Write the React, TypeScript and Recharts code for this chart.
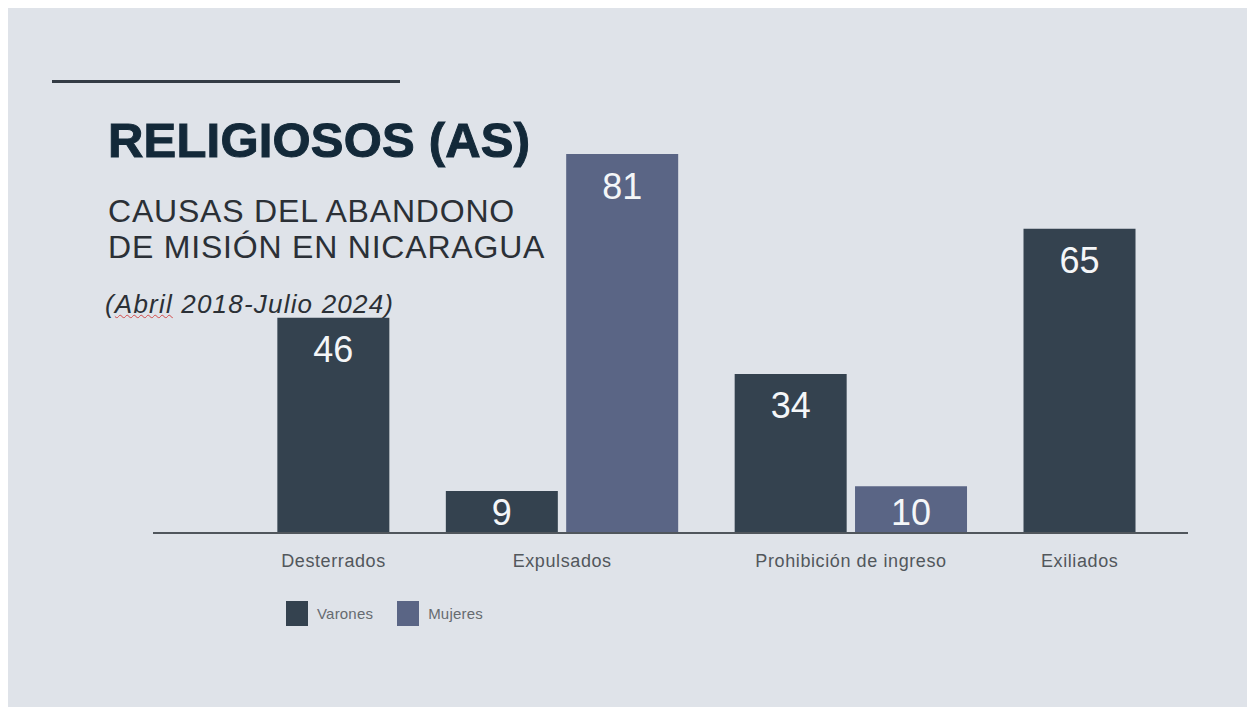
import React from 'react';
import { BarChart, Bar, XAxis, YAxis, Legend, LabelList } from 'recharts';

// categorías y valores (null = sin barra)
const categories = ['Desterrados', 'Expulsados', 'Prohibición de ingreso', 'Exiliados'];
const varones: (number | null)[] = [46, 9, 34, 65];
const mujeres: (number | null)[] = [null, 81, 10, null];

const seriesNames = { varones: 'Varones', mujeres: 'Mujeres' };
const colors = { varones: '#34424f', mujeres: '#5a6585' };
const legendOrder = [seriesNames.varones, seriesNames.mujeres];

const FONT = '"Liberation Sans", Arial, Helvetica, sans-serif';
const BAR_STEP = 1; // distancia entre barras del mismo grupo
const GROUP_STEP = 1.4; // distancia entre grupos

// cada barra es una fila; las barras vacías no ocupan espacio
type Row = { pos: number; varones?: number; mujeres?: number };
const rows: Row[] = [];
const groupCenters: number[] = [];
let cursor = 0;
categories.forEach((_, i) => {
  const start = cursor;
  let n = 0;
  (['varones', 'mujeres'] as const).forEach((key) => {
    const v = (key === 'varones' ? varones : mujeres)[i];
    if (v == null) return;
    if (n > 0) cursor += BAR_STEP;
    rows.push({ pos: cursor, [key]: v });
    n++;
  });
  groupCenters.push((start + cursor) / 2);
  cursor += GROUP_STEP;
});

const tickName = (v: number) => {
  const i = groupCenters.findIndex((c) => Math.abs(c - v) < 1e-6);
  return i >= 0 ? categories[i] : '';
};

const ValueLabel = (props: any) => {
  const { x, y, width, height, value } = props;
  if (value == null || !height || height <= 0) return null;
  const top = Number(y);
  const h = Number(height);
  const cy = Math.min(top + 32, top + h - 21);
  return (
    <text
      x={Number(x) + Number(width) / 2}
      y={cy}
      textAnchor="middle"
      dominantBaseline="central"
      fill="#f4f6f8"
      fontSize={36}
      fontFamily={FONT}
    >
      {value}
    </text>
  );
};

const LegendContent = (props: any) => {
  const payload = [...(props.payload || [])].sort(
    (a: any, b: any) => legendOrder.indexOf(a.value) - legendOrder.indexOf(b.value)
  );
  return (
    <div style={{ display: 'flex', alignItems: 'center', fontFamily: FONT }}>
      {payload.map((entry: any) => (
        <div key={entry.value} style={{ display: 'flex', alignItems: 'center', marginRight: 24 }}>
          <span style={{ display: 'inline-block', width: 22, height: 25, background: entry.color }} />
          <span style={{ marginLeft: 9, fontSize: 15, color: '#666b70', letterSpacing: 0.2 }}>
            {entry.value}
          </span>
        </div>
      ))}
    </div>
  );
};

const subtitleStyle: React.CSSProperties = {
  position: 'absolute',
  left: 100,
  fontSize: 32,
  lineHeight: '36px',
  color: '#2b3036',
  letterSpacing: 0.8,
  whiteSpace: 'nowrap',
};

export default function App() {
  return (
    <div
      style={{
        position: 'relative',
        width: 1247,
        height: 699,
        background: '#dfe3e9',
        overflow: 'hidden',
        fontFamily: FONT,
      }}
    >
      <div style={{ position: 'absolute', left: 44, top: 72, width: 348, height: 3, background: '#343c45' }} />
      <div
        style={{
          position: 'absolute',
          left: 100,
          top: 107.5,
          fontSize: 49,
          lineHeight: '49px',
          fontWeight: 700,
          color: '#132939',
          letterSpacing: 0.2,
          WebkitTextStroke: '1px #132939',
          whiteSpace: 'nowrap',
        }}
      >
        RELIGIOSOS (AS)
      </div>
      <div style={{ ...subtitleStyle, top: 185 }}>CAUSAS DEL ABANDONO</div>
      <div style={{ ...subtitleStyle, top: 221 }}>DE MISIÓN EN NICARAGUA</div>
      <div
        style={{
          position: 'absolute',
          left: 97,
          top: 282.5,
          fontSize: 26,
          lineHeight: '26px',
          fontStyle: 'italic',
          color: '#2b3036',
          letterSpacing: 1.2,
          whiteSpace: 'nowrap',
        }}
      >
        (
        <span style={{ textDecoration: 'underline wavy #d24a4a', textDecorationThickness: 1 }}>Abril</span> 2018-Julio
        2024)
      </div>

      <div style={{ position: 'absolute', left: 0, top: 0 }}>
        <BarChart
          width={1247}
          height={699}
          data={rows}
          barSize={112}
          margin={{ top: 146, right: 67, bottom: 134, left: 145 }}
        >
          <XAxis
            type="number"
            dataKey="pos"
            domain={[-1.5, 7.1]}
            ticks={groupCenters}
            interval={0}
            tickFormatter={tickName}
            tickLine={false}
            tickMargin={15}
            height={40}
            axisLine={{ stroke: '#50565c', strokeWidth: 2 }}
            tick={{ fill: '#52575c', fontSize: 18, fontFamily: FONT, letterSpacing: 0.6 }}
          />
          <YAxis hide domain={[0, 'dataMax']} />
          <Legend
            layout="horizontal"
            verticalAlign="middle"
            align="center"
            content={<LegendContent />}
            wrapperStyle={{ left: 278, top: 593, width: 'auto' }}
          />
          <Bar dataKey="varones" name={seriesNames.varones} stackId="g" fill={colors.varones} isAnimationActive={false}>
            <LabelList dataKey="varones" content={<ValueLabel />} />
          </Bar>
          <Bar dataKey="mujeres" name={seriesNames.mujeres} stackId="g" fill={colors.mujeres} isAnimationActive={false}>
            <LabelList dataKey="mujeres" content={<ValueLabel />} />
          </Bar>
        </BarChart>
      </div>
    </div>
  );
}
